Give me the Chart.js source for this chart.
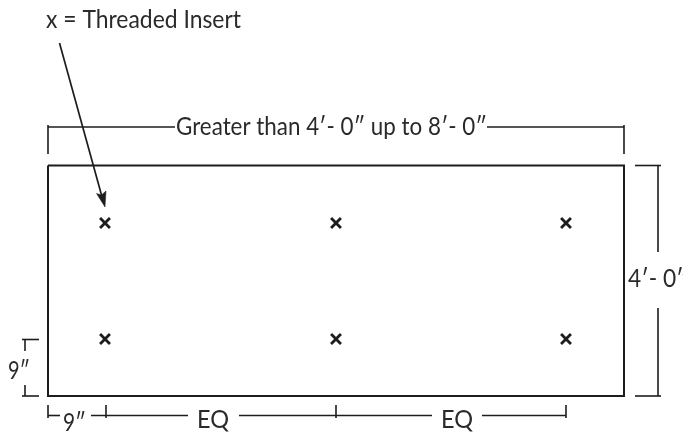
<!DOCTYPE html>
<html>
<head>
<meta charset="utf-8">
<script src="https://cdn.jsdelivr.net/npm/chart.js@4"></script>
<style>html,body{margin:0;padding:0;background:#fff}canvas{display:block}</style>
</head>
<body>
<canvas id="c" width="683" height="434"></canvas>
<script>
const insertX = [105, 336, 566, 105, 336, 566];
const insertY = [223, 223, 223, 339, 339, 339];
const panelX = [48, 624, 624, 48, 48];
const panelY = [165.5, 165.5, 396, 396, 165.5];
const leaderX = [59.5, 101.5];
const leaderY = [43, 195];
const arrowHeadX = [105, 96.5, 101.5, 106, 105];
const arrowHeadY = [207, 193.5, 195, 191, 207];
const thinLines = [
  [[48,125],[48,154]], [[48,127],[175,127]], [[487,127],[624,127]], [[624,125],[624,154]],
  [[635,165.5],[661,165.5]], [[658,165.5],[658,252]], [[658,308],[658,396]], [[635,396],[661,396]],
  [[22,339.5],[39,339.5]], [[25,339.5],[25,351]], [[25,385],[25,396]], [[22,396],[39,396]],
  [[48,405],[48,418]], [[48,415.5],[60,415.5]], [[91,415.5],[188,415.5]], [[239,415.5],[432,415.5]],
  [[482,415.5],[566,415.5]], [[106,405],[106,418]], [[336,405],[336,418]], [[566,405],[566,418]]
];
const labelTexts = ["x = Threaded Insert", "Greater than 4\u2032- 0\u2033 up to 8\u2032- 0\u2033", "4\u2032- 0\u2033", "9\u2033", "9\u2033", "EQ", "EQ"];
const labelX = [46, 176, 628, 8, 63, 197, 441];
const labelY = [28, 135, 287, 379, 431, 428, 428];
const labelWidths = [195, 311, 60, 22, 23, 32, 32];

const ink = "#1d1d1b";
const zip = (xs, ys) => xs.map((x, i) => ({x, y: ys[i]}));

const textPlugin = {
  id: "labels",
  afterDatasetsDraw(chart) {
    const {ctx, scales} = chart;
    ctx.save();
    ctx.fillStyle = "#2a2a28";
    ctx.textBaseline = "alphabetic";
    ctx.font = "400 25px Lato";
    labelTexts.forEach((t, i) => {
      ctx.fillText(t, scales.x.getPixelForValue(labelX[i]), scales.y.getPixelForValue(labelY[i]), labelWidths[i]);
    });
    ctx.restore();
  }
};

const datasets = [
  {data: zip(panelX, panelY), showLine: true, borderColor: ink, borderWidth: 2, pointRadius: 0},
  {data: zip(leaderX, leaderY), showLine: true, borderColor: ink, borderWidth: 1.7, pointRadius: 0},
  {data: zip(arrowHeadX, arrowHeadY), showLine: true, fill: "shape", backgroundColor: ink, borderColor: ink, borderWidth: 0.5, pointRadius: 0},
  {data: zip(insertX, insertY), pointStyle: "crossRot", pointRadius: 7, pointBorderColor: ink, pointBorderWidth: 2.8},
  ...thinLines.map(seg => ({data: seg.map(([x, y]) => ({x, y})), showLine: true, borderColor: ink, borderWidth: 1.6, pointRadius: 0}))
];

new Chart(document.getElementById("c"), {
  type: "scatter",
  data: {datasets},
  plugins: [textPlugin],
  options: {
    responsive: false,
    animation: false,
    layout: {padding: 0, autoPadding: false},
    plugins: {legend: {display: false}, tooltip: {enabled: false}, filler: {propagate: false}},
    scales: {
      x: {type: "linear", min: 0, max: 683, display: false},
      y: {type: "linear", min: 0, max: 434, reverse: true, display: false}
    }
  }
});
</script>
</body>
</html>
